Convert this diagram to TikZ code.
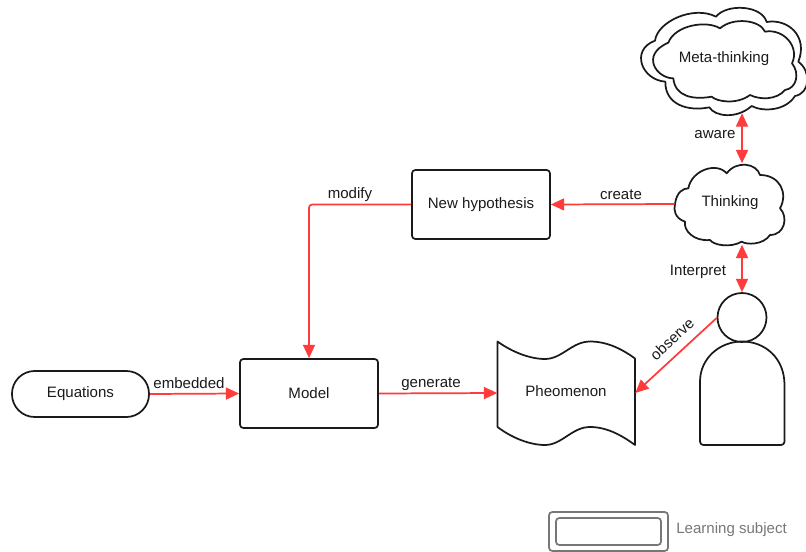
\documentclass[tikz,border=0pt]{standalone}
\usepackage{fontspec}
\setmainfont{Liberation Sans}
\usetikzlibrary{arrows.meta}
\definecolor{linkred}{HTML}{FF3B3B}
\definecolor{ink}{HTML}{1A1A1A}
\definecolor{legendgray}{HTML}{777777}
\def\pxu{0.75pt}
\tikzset{
  shapeline/.style={draw=ink,line width=1.3pt,line join=round},
  boxnode/.style={shapeline,rounded corners=2.5pt,minimum width=138*\pxu,minimum height=69*\pxu,inner sep=0pt,text=ink},
  textnode/.style={inner sep=0pt,text=ink},
  anchorbox/.style={inner sep=0pt,text=ink},
  link/.style={draw=linkred,line width=1.3pt,-{Triangle[length=10pt,width=9pt,fill=linkred]}},
  dlink/.style={draw=linkred,line width=1.3pt,{Triangle[length=10pt,width=9pt,fill=linkred]}-{Triangle[length=10pt,width=9pt,fill=linkred]}},
  lab/.style={inner sep=0pt,text=ink},
  legend/.style={draw=legendgray,line width=1.3pt,rounded corners=2.5pt},
  zoomA/.style={shift={(620,0)},x=0.25pt,y=-0.25pt},
}
\begin{document}
\begin{tikzpicture}[x=0.75pt,y=-0.75pt,font=\fontsize{11.3pt}{13pt}\selectfont]
\useasboundingbox (0,0) rectangle (806,552);
% Clouds
\begin{scope}[zoomA]
\draw[shapeline] (105,122) .. controls (112,65) and (220,15) .. (288,50)
 .. controls (320,10) and (425,15) .. (440,66)
 .. controls (505,55) and (565,110) .. (535,185)
 .. controls (575,215) and (570,280) .. (525,288)
 .. controls (495,335) and (425,335) .. (395,318)
 .. controls (350,358) and (285,350) .. (268,322)
 .. controls (205,335) and (135,315) .. (136,245)
 .. controls (65,240) and (30,150) .. (105,122) -- cycle;
\draw[shapeline] (145,128) .. controls (165,75) and (260,60) .. (300,85)
 .. controls (340,50) and (420,60) .. (435,95)
 .. controls (490,85) and (540,140) .. (516,190)
 .. controls (540,220) and (530,265) .. (495,270)
 .. controls (470,300) and (420,300) .. (390,285)
 .. controls (350,315) and (290,305) .. (275,290)
 .. controls (220,300) and (165,290) .. (160,235)
 .. controls (110,235) and (60,165) .. (145,128) -- cycle;
\draw[shapeline] (165,612) .. controls (170,575) and (190,565) .. (205,565)
 .. controls (215,510) and (290,485) .. (320,520)
 .. controls (350,480) and (410,490) .. (420,525)
 .. controls (480,525) and (505,580) .. (480,625)
 .. controls (505,650) and (495,705) .. (450,705)
 .. controls (430,735) and (380,735) .. (365,725)
 .. controls (330,745) and (280,735) .. (270,720)
 .. controls (220,725) and (190,690) .. (195,665)
 .. controls (165,655) and (160,630) .. (165,612) -- cycle;
\end{scope}
\node[anchorbox,minimum width=168*\pxu,minimum height=112*\pxu] (meta) at (724,57) {};
\node[textnode] at (724,58.5) {Meta-thinking};
\node[anchorbox,minimum width=134*\pxu,minimum height=81*\pxu] (thinking) at (742,204) {};
\node[textnode] at (730,203) {Thinking};
% Boxes
\node[boxnode,rounded corners=17pt,minimum height=46*\pxu,minimum width=137*\pxu] (equations) at (80.5,394) {Equations};
\node[boxnode] (model) at (309,393.5) {Model};
\node[boxnode] (hypothesis) at (481,204.5) {New hypothesis};
% Phenomenon
\draw[shapeline] (497.5,341.5) .. controls (512,352) and (530,359) .. (545,359)
 .. controls (562,359) and (572,341.5) .. (590,341.5)
 .. controls (607,341.5) and (622,349) .. (635,358.5)
 -- (635,445)
 .. controls (622,435.5) and (607,427) .. (590,427)
 .. controls (572,427) and (562,445) .. (545,445)
 .. controls (530,445) and (512,438) .. (497.5,427) -- cycle;
\node[anchorbox,minimum width=137.5*\pxu,minimum height=86*\pxu] (phen) at (566.25,393) {};
\node[textnode] at (566,391) {Pheomenon};
% Person
\node[shapeline,circle,minimum size=49*\pxu,inner sep=0pt] (head) at (742,317.5) {};
\draw[shapeline,rounded corners=2.5pt] (700,445) -- (700,385)
 [sharp corners] .. controls (700,358) and (720,341.5) .. (742,341.5)
 .. controls (765,341.5) and (784.5,358) .. (784.5,385) [rounded corners=2.5pt] -- (784.5,445) -- cycle;
% Connectors
\draw[link] (equations.east) -- (model.west);
\node[lab] at (189,383.5) {embedded};
\draw[link] (model.east) -- (phen.west);
\node[lab] at (431,384) {generate};
\draw[link,rounded corners=2.5pt] (hypothesis.west) -| (model.north);
\node[lab] at (350,195) {modify};
\draw[link] (thinking.west) -- (hypothesis.east);
\node[lab] at (621,195) {create};
\draw[dlink] (meta.south -| thinking.north) -- (thinking.north);
\node[lab] at (715,135) {aware};
\draw[dlink] (thinking.south) -- (head.north);
\node[lab] at (698,272) {Interpret};
\draw[link] (head.west |- 0,318) -- (phen.east);
\node[lab,rotate=43] at (672,339) {observe};
% Legend
\node[legend,minimum width=119*\pxu,minimum height=39*\pxu,inner sep=0pt] (legendouter) at (608.5,531.5) {};
\node[legend,minimum width=105*\pxu,minimum height=27*\pxu,inner sep=0pt] (legendinner) at (608.5,531.5) {};
\node[lab,text=legendgray,anchor=west] (legendtext) at (676,530) {Learning subject};
\end{tikzpicture}
\end{document}
